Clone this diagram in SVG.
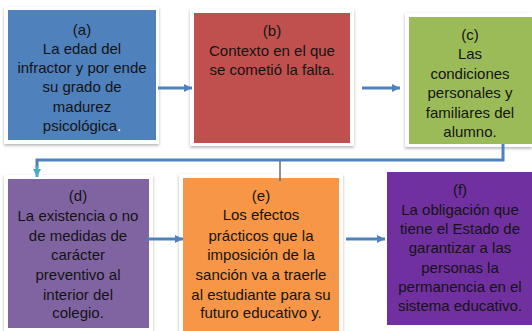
<svg xmlns="http://www.w3.org/2000/svg" width="532" height="331" viewBox="0 0 532 331">
<defs>
<style>
.frame{fill:#ffffff;filter:url(#sh)}
.t{font-family:"Liberation Sans",Arial,sans-serif;font-size:15px;fill:#141414;text-anchor:middle}
.arr{stroke:#4f81bd;stroke-width:3;fill:none;marker-end:url(#ah)}
.con{stroke:#4f81bd;stroke-width:3;fill:none}
</style>
<filter id="sh" x="-10%" y="-10%" width="120%" height="120%">
<feDropShadow dx="0" dy="1.5" stdDeviation="1.5" flood-color="#000" flood-opacity="0.3"/>
</filter>
<marker id="ah" markerUnits="userSpaceOnUse" markerWidth="10" markerHeight="10" refX="8" refY="4" orient="auto">
<path d="M0,0 L8,4 L0,8 Z" fill="#4f81bd"/>
</marker>
<marker id="ahT" markerUnits="userSpaceOnUse" markerWidth="10" markerHeight="10" refX="8" refY="4" orient="auto">
<path d="M0,0 L8,4 L0,8 Z" fill="#4bacc6"/>
</marker>
</defs>
<rect width="532" height="331" fill="#ffffff"/>

<g id="node-a">
<rect class="frame" x="4" y="7" width="155" height="137"/>
<rect x="8" y="10" width="148" height="130" fill="#4f81bd"/>
<text class="t" x="82"><tspan x="82" y="34.5">(a)</tspan><tspan x="82" y="54">La edad del</tspan><tspan x="82" y="73">infractor y por ende</tspan><tspan x="82" y="92">su grado de</tspan><tspan x="82" y="111.5">madurez</tspan><tspan x="82" y="131">psicológica<tspan fill="#ffffff">.</tspan></tspan></text>
</g>

<g id="node-b">
<rect class="frame" x="190" y="9" width="164" height="137"/>
<rect x="194" y="13" width="156" height="130" fill="#c0504d"/>
<text class="t"><tspan x="272" y="36">(b)</tspan><tspan x="272" y="56">Contexto en el que</tspan><tspan x="272" y="75">se cometió la falta.</tspan></text>
</g>

<g id="node-c">
<rect class="frame" x="405" y="13" width="127" height="134"/>
<rect x="409" y="17" width="123" height="127" fill="#9bbb59"/>
<text class="t"><tspan x="470" y="40">(c)</tspan><tspan x="470" y="59">Las</tspan><tspan x="470" y="78.5">condiciones</tspan><tspan x="470" y="98">personales y</tspan><tspan x="470" y="118">familiares del</tspan><tspan x="470" y="137">alumno.</tspan></text>
</g>

<g id="node-d">
<rect class="frame" x="4" y="175" width="149" height="156"/>
<rect x="8" y="179" width="141" height="149" fill="#8064a2"/>
<text class="t"><tspan x="78" y="201">(d)</tspan><tspan x="78" y="221">La existencia o no</tspan><tspan x="78" y="241">de medidas de</tspan><tspan x="78" y="260">carácter</tspan><tspan x="78" y="280">preventivo al</tspan><tspan x="78" y="300">interior del</tspan><tspan x="78" y="318">colegio.</tspan></text>
</g>

<g id="node-e">
<rect class="frame" x="179" y="174" width="164" height="157"/>
<rect x="183" y="178" width="156" height="153" fill="#f79646"/>
<text class="t"><tspan x="261" y="201">(e)</tspan><tspan x="261" y="220">Los efectos</tspan><tspan x="261" y="241">prácticos que la</tspan><tspan x="261" y="260">imposición de la</tspan><tspan x="261" y="280">sanción va a traerle</tspan><tspan x="261" y="300">al estudiante para su</tspan><tspan x="261" y="318">futuro educativo y.</tspan></text>
</g>

<g id="node-f">
<rect x="387" y="172" width="145" height="153" fill="#7030a0"/>
<text class="t"><tspan x="460" y="195">(f)</tspan><tspan x="460" y="215">La obligación que</tspan><tspan x="460" y="234">tiene el Estado de</tspan><tspan x="460" y="253">garantizar a las</tspan><tspan x="460" y="273">personas la</tspan><tspan x="460" y="292">permanencia en el</tspan><tspan x="460" y="311">sistema educativo.</tspan></text>
</g>

<g id="connectors">
<line class="arr" x1="158" y1="88" x2="192" y2="88"/>
<line class="arr" x1="362" y1="88" x2="400" y2="88"/>
<line class="arr" x1="146" y1="239" x2="183" y2="239"/>
<line class="arr" x1="346" y1="239" x2="385" y2="239"/>
<polyline class="con" points="503,144 503,160 37,160 37,168"/>
<line x1="37" y1="166" x2="37" y2="177" stroke="#4bacc6" stroke-width="3" marker-end="url(#ahT)"/>
<line x1="280" y1="161" x2="280" y2="181" stroke="#6b6b6b" stroke-width="1.5"/>
</g>
</svg>
